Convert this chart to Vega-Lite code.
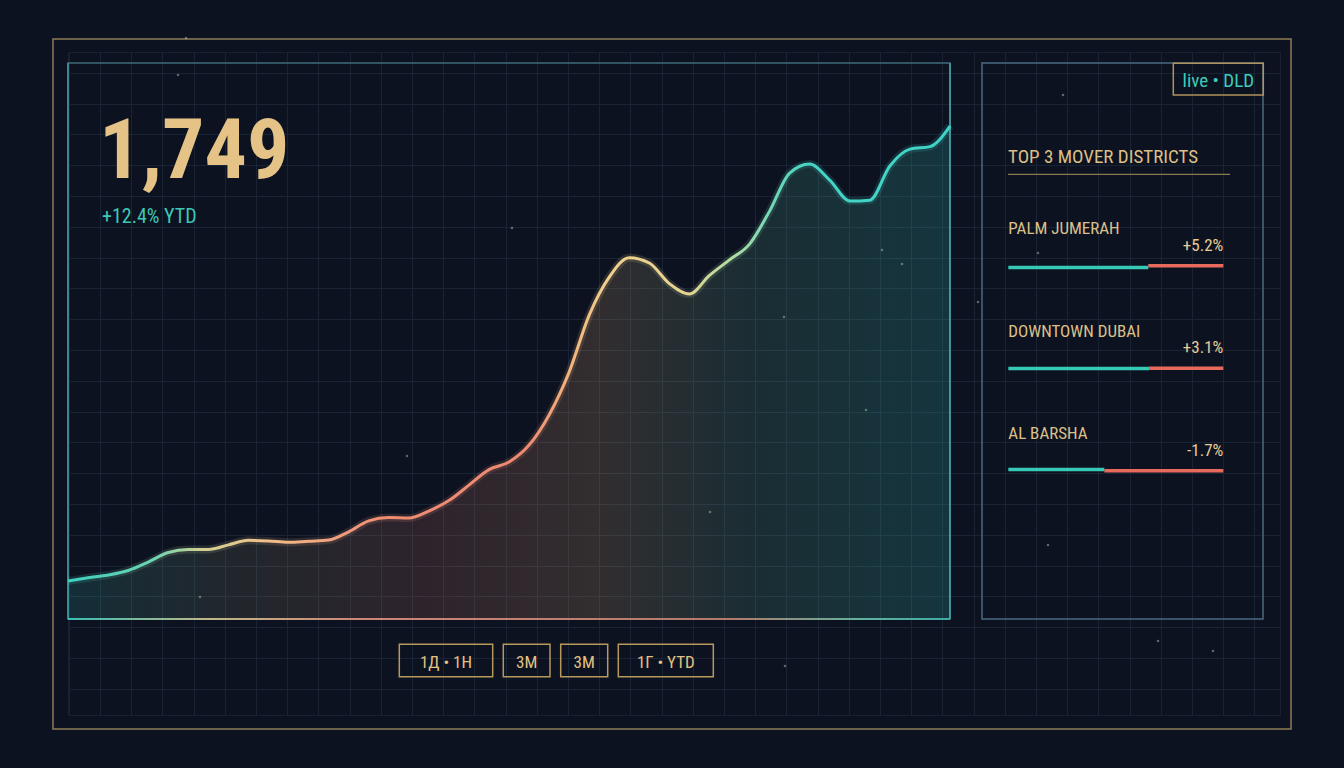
{
  "$schema": "https://vega.github.io/schema/vega-lite/v6.json",
  "width": 1212,
  "height": 663,
  "padding": {"left": 68, "top": 52, "right": 64, "bottom": 53},
  "autosize": {"type": "none"},
  "background": "#0c1220",
  "config": {
    "view": {"stroke": "#172133", "strokeWidth": 1},
    "text": {"font": "Liberation Sans Narrow, Roboto Condensed, DejaVu Sans Condensed, sans-serif"}
  },
  "datasets": {
    "kpi": [{"metric": "Dubai price index", "value": 1749, "ytd_change": 12.4, "ytd_label": "+12.4% YTD"}],
    "index": [
      {"week": 0, "value": 135}, {"week": 1, "value": 146}, {"week": 2, "value": 156}, {"week": 3, "value": 172},
      {"week": 4, "value": 202}, {"week": 5, "value": 236}, {"week": 6, "value": 247}, {"week": 7, "value": 247},
      {"week": 8, "value": 263}, {"week": 9, "value": 279}, {"week": 10, "value": 277}, {"week": 11, "value": 272},
      {"week": 12, "value": 276}, {"week": 13, "value": 280}, {"week": 14, "value": 309}, {"week": 15, "value": 348},
      {"week": 16, "value": 360}, {"week": 17, "value": 358}, {"week": 18, "value": 383}, {"week": 19, "value": 420},
      {"week": 20, "value": 475}, {"week": 21, "value": 530}, {"week": 22, "value": 557}, {"week": 23, "value": 617},
      {"week": 24, "value": 724}, {"week": 25, "value": 876}, {"week": 26, "value": 1078}, {"week": 27, "value": 1213},
      {"week": 28, "value": 1282}, {"week": 29, "value": 1263}, {"week": 30, "value": 1190}, {"week": 31, "value": 1153},
      {"week": 32, "value": 1219}, {"week": 33, "value": 1274}, {"week": 34, "value": 1330}, {"week": 35, "value": 1447},
      {"week": 36, "value": 1582}, {"week": 37, "value": 1614}, {"week": 38, "value": 1557}, {"week": 39, "value": 1483},
      {"week": 40, "value": 1486}, {"week": 41, "value": 1607}, {"week": 42, "value": 1667}, {"week": 43, "value": 1676},
      {"week": 44, "value": 1749}
    ],
    "districts": [
      {"rank": 1, "district": "PALM JUMERAH", "change": 5.2, "label": "+5.2%", "teal_share": 0.651},
      {"rank": 2, "district": "DOWNTOWN DUBAI", "change": 3.1, "label": "+3.1%", "teal_share": 0.655},
      {"rank": 3, "district": "AL BARSHA", "change": -1.7, "label": "-1.7%", "teal_share": 0.4465}
    ],
    "sparkles": [
      {"u": 2.7564, "v": 15.1299}, {"u": 2.5, "v": 13.9286}, {"u": 13.2051, "v": 8.961},
      {"u": 25.7051, "v": 7.7922}, {"u": 28.141, "v": 6.5584}, {"u": 19.5513, "v": -0.2597},
      {"u": 9.8397, "v": 1.5584}, {"u": 24.5513, "v": 3.0519}, {"u": 25.0641, "v": 8.2468},
      {"u": 21.9231, "v": 6.0714}, {"u": 21.9551, "v": -5.2597}, {"u": 30.3846, "v": -1.3312},
      {"u": 30.0641, "v": 8.1494}, {"u": 30.8654, "v": 13.2792}, {"u": 33.9103, "v": -4.4481},
      {"u": 35.6731, "v": -4.7727}, {"u": 3.2051, "v": -3.0195}
    ]
  },
  "data": {"name": "kpi"},
  "resolve": {"scale": {"x": "independent", "y": "independent"}},
  "layer": [
    {
      "mark": {"type": "rect", "filled": false, "stroke": "#8c7b55", "strokeWidth": 1.5},
      "encoding": {
        "x": {"datum": -1.50641, "type": "quantitative", "scale": {"domain": [-1.02564, 37.82051], "nice": false, "zero": false},
              "axis": {"values": [-1,0,1,2,3,4,5,6,7,8,9,10,11,12,13,14,15,16,17,18,19,20,21,22,23,24,25,26,27,28,29,30,31,32,33,34,35,36,37], "grid": true, "gridColor": "#182335", "gridWidth": 1, "labels": false, "ticks": false, "domain": false, "title": null}},
        "x2": {"datum": 38.17308},
        "y": {"datum": 15.0974, "type": "quantitative", "scale": {"domain": [-6.85065, 14.67532], "nice": false, "zero": false},
              "axis": {"values": [-6,-5,-4,-3,-2,-1,0,1,2,3,4,5,6,7,8,9,10,11,12,13,14], "grid": true, "gridColor": "#182335", "gridWidth": 1, "labels": false, "ticks": false, "domain": false, "title": null}},
        "y2": {"datum": -7.30519}
      }
    },
    {
      "data": {"name": "sparkles"},
      "mark": {"type": "circle", "color": "#b4bca0", "opacity": 0.5, "size": 7},
      "encoding": {
        "x": {"field": "u", "type": "quantitative", "scale": {"domain": [-1.02564, 37.82051], "nice": false, "zero": false}, "axis": null},
        "y": {"field": "v", "type": "quantitative", "scale": {"domain": [-6.85065, 14.67532], "nice": false, "zero": false}, "axis": null}
      }
    },
    {
      "mark": {"type": "rect", "filled": false, "stroke": "#3e6a78", "strokeWidth": 1.5},
      "encoding": {
        "x": {"datum": -1.02564, "type": "quantitative", "scale": {"domain": [-1.02564, 37.82051], "nice": false, "zero": false}, "axis": null},
        "x2": {"datum": 27.24359},
        "y": {"datum": 14.31818, "type": "quantitative", "scale": {"domain": [-6.85065, 14.67532], "nice": false, "zero": false}, "axis": null},
        "y2": {"datum": -3.73377}
      }
    },
    {
      "mark": {"type": "rule", "stroke": "#4894a0", "strokeWidth": 1.5},
      "encoding": {
        "x": {"datum": -1.02564, "type": "quantitative", "scale": {"domain": [-1.02564, 37.82051], "nice": false, "zero": false}, "axis": null},
        "y": {"datum": 14.31818, "type": "quantitative", "scale": {"domain": [-6.85065, 14.67532], "nice": false, "zero": false}, "axis": null},
        "y2": {"datum": -3.73377}
      }
    },
    {
      "mark": {"type": "rule", "stroke": "#45a4ac", "strokeWidth": 1.5},
      "encoding": {
        "x": {"datum": 27.24359, "type": "quantitative", "scale": {"domain": [-1.02564, 37.82051], "nice": false, "zero": false}, "axis": null},
        "y": {"datum": 14.31818, "type": "quantitative", "scale": {"domain": [-6.85065, 14.67532], "nice": false, "zero": false}, "axis": null},
        "y2": {"datum": -3.73377}
      }
    },
    {
      "mark": {"type": "rect", "filled": false, "stroke": "#4a6a80", "strokeWidth": 1.5},
      "encoding": {
        "x": {"datum": 28.26923, "type": "quantitative", "scale": {"domain": [-1.02564, 37.82051], "nice": false, "zero": false}, "axis": null},
        "x2": {"datum": 37.27564},
        "y": {"datum": 14.31818, "type": "quantitative", "scale": {"domain": [-6.85065, 14.67532], "nice": false, "zero": false}, "axis": null},
        "y2": {"datum": -3.73377}
      }
    },
    {
      "mark": {"type": "rect", "filled": false, "stroke": "#b0935c", "strokeWidth": 1.5},
      "encoding": {
        "x": {"datum": 34.40064, "type": "quantitative", "scale": {"domain": [-1.02564, 37.82051], "nice": false, "zero": false}, "axis": null},
        "x2": {"datum": 37.28526},
        "y": {"datum": 14.30844, "type": "quantitative", "scale": {"domain": [-6.85065, 14.67532], "nice": false, "zero": false}, "axis": null},
        "y2": {"datum": 13.27922}
      }
    },
    {
      "mark": {"type": "text", "text": "live • DLD", "color": "#3ecbb9", "fontSize": 19, "align": "center", "baseline": "alphabetic"},
      "encoding": {
        "x": {"datum": 35.8429, "type": "quantitative", "scale": {"domain": [-1.02564, 37.82051], "nice": false, "zero": false}, "axis": null},
        "y": {"datum": 13.5487, "type": "quantitative", "scale": {"domain": [-6.85065, 14.67532], "nice": false, "zero": false}, "axis": null}
      }
    },
    {
      "mark": {"type": "text", "text": "TOP 3 MOVER DISTRICTS", "color": "#dcbf86", "fontSize": 19, "align": "left", "baseline": "alphabetic"},
      "encoding": {
        "x": {"datum": 29.10256, "type": "quantitative", "scale": {"domain": [-1.02564, 37.82051], "nice": false, "zero": false}, "axis": null},
        "y": {"datum": 11.06169, "type": "quantitative", "scale": {"domain": [-6.85065, 14.67532], "nice": false, "zero": false}, "axis": null}
      }
    },
    {
      "mark": {"type": "rule", "stroke": "#8c7a52", "strokeWidth": 1.2},
      "encoding": {
        "x": {"datum": 29.10256, "type": "quantitative", "scale": {"domain": [-1.02564, 37.82051], "nice": false, "zero": false}, "axis": null},
        "x2": {"datum": 36.21795},
        "y": {"datum": 10.70455, "type": "quantitative", "scale": {"domain": [-6.85065, 14.67532], "nice": false, "zero": false}, "axis": null}
      }
    },
    {
      "mark": {"type": "text", "color": "#e5c386", "fontSize": 84, "fontWeight": "bold", "align": "left", "baseline": "alphabetic"},
      "encoding": {
        "text": {"field": "value", "type": "quantitative", "format": ","},
        "x": {"datum": -0.03205, "type": "quantitative", "scale": {"domain": [-1.02564, 37.82051], "nice": false, "zero": false}, "axis": null},
        "y": {"datum": 10.57468, "type": "quantitative", "scale": {"domain": [-6.85065, 14.67532], "nice": false, "zero": false}, "axis": null}
      }
    },
    {
      "mark": {"type": "text", "color": "#3cc8b8", "fontSize": 20, "align": "left", "baseline": "alphabetic"},
      "encoding": {
        "text": {"field": "ytd_label", "type": "nominal"},
        "x": {"datum": 0.0641, "type": "quantitative", "scale": {"domain": [-1.02564, 37.82051], "nice": false, "zero": false}, "axis": null},
        "y": {"datum": 9.13312, "type": "quantitative", "scale": {"domain": [-6.85065, 14.67532], "nice": false, "zero": false}, "axis": null}
      }
    },
    {
      "mark": {"type": "rect", "filled": false, "stroke": "#b8985c", "strokeWidth": 1.5},
      "encoding": {
        "x": {"datum": 9.59295, "type": "quantitative", "scale": {"domain": [-1.02564, 37.82051], "nice": false, "zero": false}, "axis": null},
        "x2": {"datum": 12.58654},
        "y": {"datum": -4.55519, "type": "quantitative", "scale": {"domain": [-6.85065, 14.67532], "nice": false, "zero": false}, "axis": null},
        "y2": {"datum": -5.60714}
      }
    },
    {
      "mark": {"type": "rect", "filled": false, "stroke": "#b8985c", "strokeWidth": 1.5},
      "encoding": {
        "x": {"datum": 12.92628, "type": "quantitative", "scale": {"domain": [-1.02564, 37.82051], "nice": false, "zero": false}, "axis": null},
        "x2": {"datum": 14.42308},
        "y": {"datum": -4.55519, "type": "quantitative", "scale": {"domain": [-6.85065, 14.67532], "nice": false, "zero": false}, "axis": null},
        "y2": {"datum": -5.60714}
      }
    },
    {
      "mark": {"type": "rect", "filled": false, "stroke": "#b8985c", "strokeWidth": 1.5},
      "encoding": {
        "x": {"datum": 14.76603, "type": "quantitative", "scale": {"domain": [-1.02564, 37.82051], "nice": false, "zero": false}, "axis": null},
        "x2": {"datum": 16.27244},
        "y": {"datum": -4.55519, "type": "quantitative", "scale": {"domain": [-6.85065, 14.67532], "nice": false, "zero": false}, "axis": null},
        "y2": {"datum": -5.60714}
      }
    },
    {
      "mark": {"type": "rect", "filled": false, "stroke": "#b8985c", "strokeWidth": 1.5},
      "encoding": {
        "x": {"datum": 16.61218, "type": "quantitative", "scale": {"domain": [-1.02564, 37.82051], "nice": false, "zero": false}, "axis": null},
        "x2": {"datum": 19.65705},
        "y": {"datum": -4.55519, "type": "quantitative", "scale": {"domain": [-6.85065, 14.67532], "nice": false, "zero": false}, "axis": null},
        "y2": {"datum": -5.60714}
      }
    },
    {
      "mark": {"type": "text", "text": "1Д  •  1Н", "color": "#e2c283", "fontSize": 17, "align": "center", "baseline": "alphabetic"},
      "encoding": {
        "x": {"datum": 11.08974, "type": "quantitative", "scale": {"domain": [-1.02564, 37.82051], "nice": false, "zero": false}, "axis": null},
        "y": {"datum": -5.33442, "type": "quantitative", "scale": {"domain": [-6.85065, 14.67532], "nice": false, "zero": false}, "axis": null}
      }
    },
    {
      "mark": {"type": "text", "text": "3M", "color": "#e2c283", "fontSize": 17, "align": "center", "baseline": "alphabetic"},
      "encoding": {
        "x": {"datum": 13.67628, "type": "quantitative", "scale": {"domain": [-1.02564, 37.82051], "nice": false, "zero": false}, "axis": null},
        "y": {"datum": -5.33442, "type": "quantitative", "scale": {"domain": [-6.85065, 14.67532], "nice": false, "zero": false}, "axis": null}
      }
    },
    {
      "mark": {"type": "text", "text": "3M", "color": "#e2c283", "fontSize": 17, "align": "center", "baseline": "alphabetic"},
      "encoding": {
        "x": {"datum": 15.51923, "type": "quantitative", "scale": {"domain": [-1.02564, 37.82051], "nice": false, "zero": false}, "axis": null},
        "y": {"datum": -5.33442, "type": "quantitative", "scale": {"domain": [-6.85065, 14.67532], "nice": false, "zero": false}, "axis": null}
      }
    },
    {
      "mark": {"type": "text", "text": "1Г • YTD", "color": "#e2c283", "fontSize": 17, "align": "center", "baseline": "alphabetic"},
      "encoding": {
        "x": {"datum": 18.13462, "type": "quantitative", "scale": {"domain": [-1.02564, 37.82051], "nice": false, "zero": false}, "axis": null},
        "y": {"datum": -5.33442, "type": "quantitative", "scale": {"domain": [-6.85065, 14.67532], "nice": false, "zero": false}, "axis": null}
      }
    },
    {
      "data": {"name": "index"},
      "mark": {"type": "area", "interpolate": "monotone",
        "color": {"gradient": "linear", "x1": 0, "y1": 0, "x2": 1, "y2": 0, "stops": [
          {"offset": 0, "color": "rgba(60,207,192,0.15)"},
          {"offset": 0.2, "color": "rgba(210,200,140,0.11)"},
          {"offset": 0.4, "color": "rgba(240,130,110,0.15)"},
          {"offset": 0.6, "color": "rgba(240,180,120,0.17)"},
          {"offset": 0.78, "color": "rgba(110,210,170,0.14)"},
          {"offset": 1, "color": "rgba(60,212,200,0.18)"}
        ]}},
      "encoding": {
        "x": {"field": "week", "type": "quantitative", "scale": {"domain": [0, 60.4626], "nice": false, "zero": false}, "axis": null},
        "y": {"field": "value", "type": "quantitative", "scale": {"domain": [-340.58, 2011.55], "nice": false, "zero": false}, "axis": null}
      }
    },
    {
      "mark": {"type": "rect", "opacity": 0.85,
        "color": {"gradient": "linear", "x1": 0, "y1": 0, "x2": 1, "y2": 0, "stops": [
          {"offset": 0, "color": "#3ccfc0"}, {"offset": 0.16, "color": "#d8c890"}, {"offset": 0.32, "color": "#e8907a"},
          {"offset": 0.75, "color": "#c8806c"}, {"offset": 0.9, "color": "#6ac0a8"}, {"offset": 1, "color": "#3fb8b0"}
        ]}},
      "encoding": {
        "x": {"datum": 0, "type": "quantitative", "scale": {"domain": [0, 60.4626], "nice": false, "zero": false}, "axis": null},
        "x2": {"datum": 44},
        "y": {"datum": 3.5, "type": "quantitative", "scale": {"domain": [-340.58, 2011.55], "nice": false, "zero": false}, "axis": null},
        "y2": {"datum": -3.5}
      }
    },
    {
      "data": {"name": "index"},
      "mark": {"type": "line", "interpolate": "monotone", "strokeWidth": 8, "opacity": 0.14,
        "color": {"gradient": "linear", "x1": 0, "y1": 0, "x2": 1, "y2": 0, "stops": [
          {"offset": 0, "color": "#3ccfc0"}, {"offset": 0.15, "color": "#cfd092"}, {"offset": 0.3, "color": "#f0a07e"},
          {"offset": 0.52, "color": "#ef8a72"}, {"offset": 0.61, "color": "#f1cf8c"}, {"offset": 0.75, "color": "#b2dea2"},
          {"offset": 0.84, "color": "#45d4c4"}, {"offset": 1, "color": "#3fd4c8"}
        ]}},
      "encoding": {
        "x": {"field": "week", "type": "quantitative", "scale": {"domain": [0, 60.4626], "nice": false, "zero": false}, "axis": null},
        "y": {"field": "value", "type": "quantitative", "scale": {"domain": [-340.58, 2011.55], "nice": false, "zero": false}, "axis": null}
      }
    },
    {
      "data": {"name": "index"},
      "mark": {"type": "line", "interpolate": "monotone", "strokeWidth": 3,
        "color": {"gradient": "linear", "x1": 0, "y1": 0, "x2": 1, "y2": 0, "stops": [
          {"offset": 0, "color": "#3ccfc0"},
          {"offset": 0.1, "color": "#6fd4b0"},
          {"offset": 0.15, "color": "#cfd092"},
          {"offset": 0.22, "color": "#eec28a"},
          {"offset": 0.3, "color": "#f0a07e"},
          {"offset": 0.36, "color": "#ef8c72"},
          {"offset": 0.52, "color": "#ef8a72"},
          {"offset": 0.57, "color": "#f2b47c"},
          {"offset": 0.61, "color": "#f1cf8c"},
          {"offset": 0.7, "color": "#e6d290"},
          {"offset": 0.75, "color": "#b2dea2"},
          {"offset": 0.8, "color": "#6ed8b8"},
          {"offset": 0.84, "color": "#45d4c4"},
          {"offset": 1, "color": "#3fd4c8"}
        ]}},
      "encoding": {
        "x": {"field": "week", "type": "quantitative", "scale": {"domain": [0, 60.4626], "nice": false, "zero": false}, "axis": null},
        "y": {"field": "value", "type": "quantitative", "scale": {"domain": [-340.58, 2011.55], "nice": false, "zero": false}, "axis": null}
      }
    },
    {
      "data": {"name": "districts"},
      "mark": {"type": "rule", "stroke": "#e86a5c", "strokeWidth": 3.5},
      "encoding": {
        "x": {"field": "teal_share", "type": "quantitative", "scale": {"domain": [-4.3736, 1.2636], "nice": false, "zero": false}, "axis": null},
        "x2": {"datum": 1},
        "y": {"field": "rank", "type": "quantitative", "scale": {"domain": [-1.0849, 5.3834], "nice": false, "zero": false, "reverse": true}, "axis": null}
      }
    },
    {
      "data": {"name": "districts"},
      "mark": {"type": "bar", "orient": "horizontal", "color": "#36c9b6", "size": 3.5},
      "encoding": {
        "x": {"field": "teal_share", "type": "quantitative", "stack": null, "scale": {"domain": [-4.3736, 1.2636], "nice": false, "zero": false}, "axis": null},
        "y": {"field": "rank", "type": "quantitative", "scale": {"domain": [-1.0849, 5.3834], "nice": false, "zero": false, "reverse": true}, "axis": null}
      }
    },
    {
      "data": {"name": "districts"},
      "mark": {"type": "text", "color": "#dcc08a", "fontSize": 17, "align": "left", "baseline": "alphabetic", "dy": -31.4},
      "encoding": {
        "text": {"field": "district", "type": "nominal"},
        "x": {"datum": 0, "type": "quantitative", "scale": {"domain": [-4.3736, 1.2636], "nice": false, "zero": false}, "axis": null},
        "y": {"field": "rank", "type": "quantitative", "scale": {"domain": [-1.0849, 5.3834], "nice": false, "zero": false, "reverse": true}, "axis": null}
      }
    },
    {
      "data": {"name": "districts"},
      "mark": {"type": "text", "color": "#e6cd98", "fontSize": 17, "align": "right", "baseline": "alphabetic", "dy": -15},
      "encoding": {
        "text": {"field": "label", "type": "nominal"},
        "x": {"datum": 1, "type": "quantitative", "scale": {"domain": [-4.3736, 1.2636], "nice": false, "zero": false}, "axis": null},
        "y": {"field": "rank", "type": "quantitative", "scale": {"domain": [-1.0849, 5.3834], "nice": false, "zero": false, "reverse": true}, "axis": null}
      }
    }
  ]
}
